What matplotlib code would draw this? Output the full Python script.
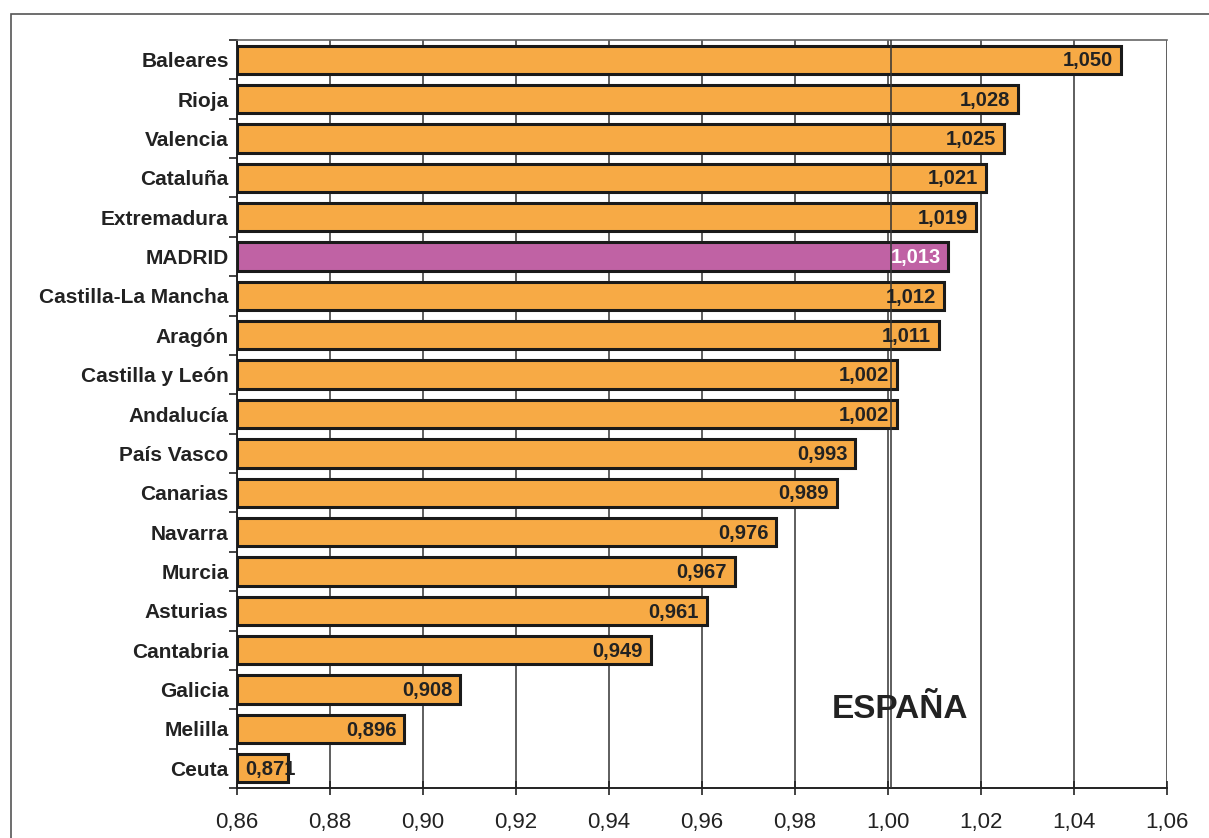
import matplotlib
matplotlib.use('agg')
import matplotlib.pyplot as plt
from matplotlib.patches import Rectangle
from matplotlib.ticker import FixedLocator

plt.rcParams['font.family'] = ['Liberation Sans', 'DejaVu Sans']

# Regional index values, highest first
regions = ["Baleares", "Rioja", "Valencia", "Cataluña", "Extremadura", "MADRID",
           "Castilla-La Mancha", "Aragón", "Castilla y León", "Andalucía",
           "País Vasco", "Canarias", "Navarra", "Murcia", "Asturias",
           "Cantabria", "Galicia", "Melilla", "Ceuta"]
values = [1.050, 1.028, 1.025, 1.021, 1.019, 1.013, 1.012, 1.011, 1.002, 1.002,
          0.993, 0.989, 0.976, 0.967, 0.961, 0.949, 0.908, 0.896, 0.871]
spain = 1.000
xticks = [0.86, 0.88, 0.90, 0.92, 0.94, 0.96, 0.98, 1.00, 1.02, 1.04, 1.06]

orange = "#F7AA45"
purple = "#C062A4"

fig = plt.figure(figsize=(12.09, 8.38), dpi=100)
# outer frame of the chart area
fig.patches.append(Rectangle((11 / 1209, -0.1), 1.2, 1.1 - 14 / 838,
                             transform=fig.transFigure, fill=False,
                             edgecolor="#555555", linewidth=1.2))
ax = fig.add_axes([237 / 1209, 1 - 788 / 838, (1167 - 237) / 1209, (788 - 40) / 838])

ypos = list(range(len(regions)))
colors = [purple if r == "MADRID" else orange for r in regions]

ax.set_xlim(0.86, 1.06)
ax.set_ylim(len(regions) - 0.5, -0.5)

for x in xticks:
    ax.axvline(x, color="#333333", linewidth=1.1, zorder=1)
# national average line
ax.axvline(spain + 0.0007, color="#333333", linewidth=1.1, zorder=4)

ax.barh(ypos, [v - 0.86 for v in values], left=0.86, height=0.72,
        color=colors, edgecolor="#1a1a1a", linewidth=2.2, zorder=3)

for y, v, r in zip(ypos, values, regions):
    txt = f"{v:.3f}".replace(".", ",")
    # short bars: start the label just inside the bar instead
    if v - 0.86 < 0.015:
        x, ha = 0.8617, "left"
    else:
        x, ha = v - 0.0017, "right"
    ax.text(x, y + 0.03, txt, ha=ha, va="center", fontsize=14.5,
            fontweight="bold", color="white" if r == "MADRID" else "#222222",
            zorder=5)

ax.text(1.0026, 16.5, "ESPAÑA", ha="center", va="center", fontsize=24,
        fontweight="bold", color="#222222", zorder=5)

ax.set_yticks(ypos)
ax.set_yticklabels(regions, fontsize=15, fontweight="bold", color="#222222")
ax.tick_params(axis="y", length=0, pad=6)
ax.yaxis.set_minor_locator(FixedLocator([i - 0.5 for i in range(len(regions) + 1)]))
ax.tick_params(axis="y", which="minor", length=6, width=1.2, color="#222222")

ax.set_xticks(xticks)
ax.set_xticklabels([f"{x:.2f}".replace(".", ",") for x in xticks],
                   fontsize=16, color="#222222")
ax.tick_params(axis="x", direction="inout", length=10, width=1.2,
               color="#222222", pad=12)

for side in ["left", "bottom"]:
    ax.spines[side].set_color("#222222")
    ax.spines[side].set_linewidth(1.4)
ax.spines["top"].set_color("#666666")
ax.spines["top"].set_linewidth(1.2)
ax.spines["right"].set_visible(False)

fig.savefig("out.png", dpi=100)
